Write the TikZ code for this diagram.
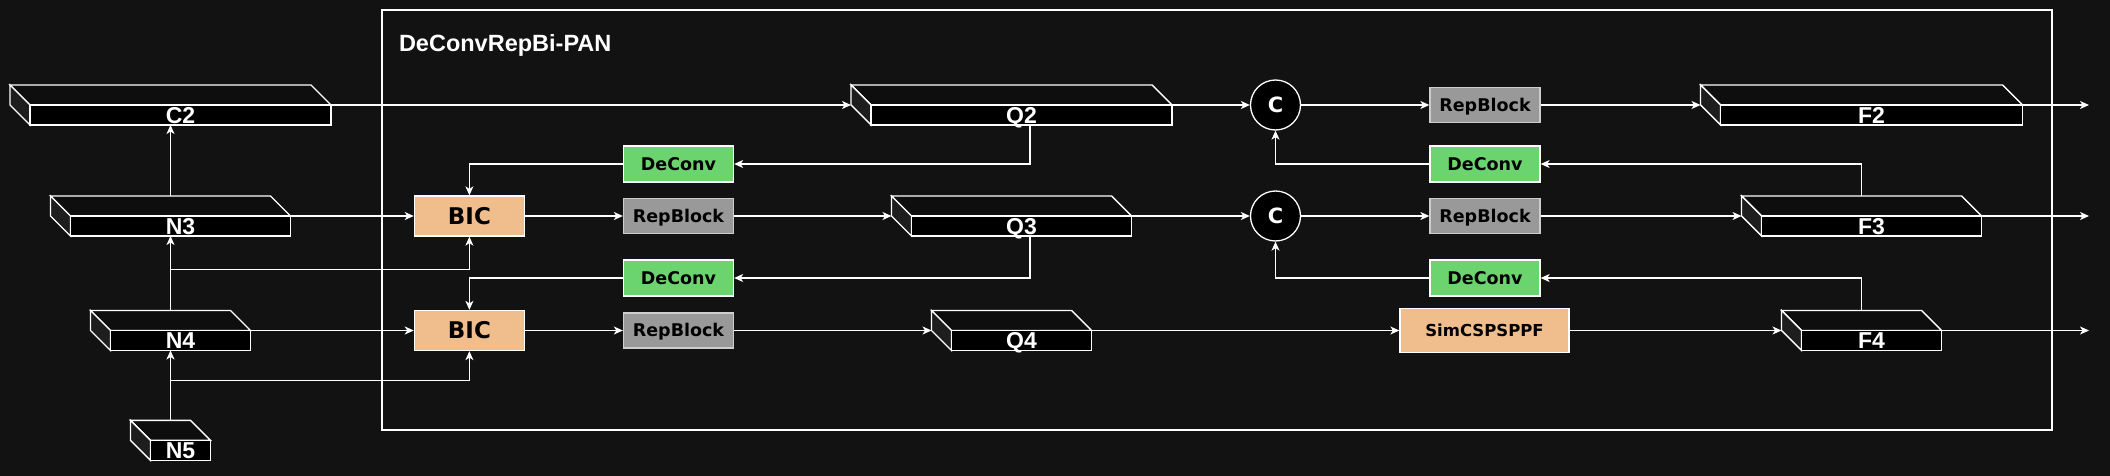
\documentclass[tikz,border=0pt]{standalone}
\usepackage{fontspec}
\setmainfont{Liberation Sans}
\newfontfamily\blockfont{DejaVu Sans}
\usepackage{tikz}
\usetikzlibrary{calc}
\usetikzlibrary{arrows.meta}

\definecolor{bgdark}{RGB}{18,18,18}
\definecolor{fmtop}{RGB}{14,14,14}
\definecolor{fmside}{RGB}{30,30,30}
\definecolor{deconvgreen}{RGB}{108,212,110}
\definecolor{repgray}{RGB}{153,153,153}
\definecolor{repedge}{RGB}{205,205,205}
\definecolor{bicpeach}{RGB}{240,190,140}

\tikzset{
  fmap/.style={rectangle, minimum height=40pt, inner sep=0pt, outer sep=0pt},
  fmline/.style={draw=white, line width=1.4pt},
  fmtext/.style={text=white, inner sep=0pt, text height=16.4pt, text depth=0pt,
    font=\fontsize{23}{23}\selectfont\bfseries},
  blk/.style={rectangle, draw=white, line width=1.3pt, minimum width=110pt, inner sep=0pt,
    text=black, text height=12.7pt, text depth=0pt,
    font=\blockfont\fontsize{17.5}{17.5}\selectfont\bfseries},
  deconv/.style={blk, fill=deconvgreen, minimum height=36pt},
  repblock/.style={blk, fill=repgray, draw=repedge, minimum height=35pt},
  bic/.style={blk, fill=bicpeach, minimum height=40pt, text height=16.8pt,
    font=\blockfont\fontsize{23}{23}\selectfont\bfseries},
  sppf/.style={blk, fill=bicpeach, minimum width=169pt, minimum height=44pt, text height=12pt,
    font=\blockfont\fontsize{16.5}{16.5}\selectfont\bfseries},
  concat/.style={circle, draw=white, line width=1.3pt, fill=black, minimum size=50pt, inner sep=0pt,
    text=white, text height=15.3pt, text depth=0pt,
    font=\blockfont\fontsize{21}{21}\selectfont\bfseries},
  flow/.style={draw=white, line width=1.3pt, -{Stealth[length=9pt,width=8pt,inset=2.5pt]}}
}

% feature map drawn as a flat box: name, centre x, centre y, width, label
\newcommand{\fmap}[5]{%
  \node[fmap, minimum width=#4pt] (#1) at (#2,#3) {};
  \filldraw[fmline, fill=fmtop] (#1.north west) -- ([xshift=-20pt]#1.north east) -- (#1.east) -- ([xshift=20pt]#1.west) -- cycle;
  \filldraw[fmline, fill=fmside] (#1.north west) -- ([xshift=20pt]#1.west) -- ([xshift=20pt]#1.south west) -- (#1.west) -- cycle;
  \filldraw[fmline, fill=black] ([xshift=20pt]#1.west) rectangle (#1.south east);
  \node[fmtext] (#1-lab) at ([xshift=10pt,yshift=-10pt]#1.center) {#5};
}

\begin{document}
\begin{tikzpicture}[x=1pt,y=-1pt]

        % background and frame
        \fill[bgdark] (0,0) rectangle (2110,476);
        \useasboundingbox (0,0) rectangle (2110,476);
        \draw[white, line width=1.3pt] (382,10) rectangle (2052,430);
        \node[anchor=base west, inner sep=0pt, text=white, font=\fontsize{23.5}{23.5}\selectfont\bfseries] (title) at (398.8,51.4) {DeConvRepBi-PAN};

        % feature maps
        \foreach \n/\x/\y/\w in {
            C2/170.5/105/321,
            N3/170.5/216/240,
            N4/170.5/330.5/160,
            N5/170.5/440.3/80,
            Q2/1011.5/105/321,
            Q3/1011.5/216/240,
            Q4/1011.5/330.5/160,
            F2/1861.5/105/322,
            F3/1861.5/216/240,
            F4/1861.5/330.5/160} {
                \fmap{\n}{\x}{\y}{\w}{\n}
        }

        % blocks
        \node[bic] (BIC1) at (469.4,216) {BIC};
        \node[bic] (BIC2) at (469.4,330.5) {BIC};
        \node[repblock] (RB1) at (678.5,216) {RepBlock};
        \node[repblock] (RB2) at (678.5,330.5) {RepBlock};
        \node[deconv] (DC1) at (678.5,164) {DeConv};
        \node[deconv] (DC2) at (678.5,278) {DeConv};
        \node[concat] (CC1) at (1275.5,105) {C};
        \node[concat] (CC2) at (1275.5,216) {C};
        \node[repblock] (RB3) at (1485,105) {RepBlock};
        \node[repblock] (RB4) at (1485,216) {RepBlock};
        \node[deconv] (DC3) at (1485,164) {DeConv};
        \node[deconv] (DC4) at (1485,278) {DeConv};
        \node[sppf] (SPPF) at (1484.5,330.5) {SimCSPSPPF};

        % outputs
        \coordinate (outF2) at (2089,105);
        \coordinate (outF3) at (2089,216);
        \coordinate (outF4) at (2089,330.5);

        % backbone inputs
        \draw[flow] (N5) -- (N4);
        \draw[flow] (N4) -- (N3);
        \draw[flow] (N3) -- (C2);
        \draw[flow] (N5.north) -- ++(0,-40) -| (BIC2.south);
        \draw[flow] (N4.north) -- ++(0,-41) -| (BIC1.south);
        \draw[flow] (N3) -- (BIC1);
        \draw[flow] (N4) -- (BIC2);

        % top-down rows
        \draw[flow] (C2) -- (Q2);
        \draw[flow] (Q2) -- (CC1);
        \draw[flow] (CC1) -- (RB3);
        \draw[flow] (RB3) -- (F2);
        \draw[flow] (F2) -- (outF2);
        \draw[flow] (BIC1) -- (RB1);
        \draw[flow] (RB1) -- (Q3);
        \draw[flow] (Q3) -- (CC2);
        \draw[flow] (CC2) -- (RB4);
        \draw[flow] (RB4) -- (F3);
        \draw[flow] (F3) -- (outF3);
        \draw[flow] (BIC2) -- (RB2);
        \draw[flow] (RB2) -- (Q4);
        \draw[flow] (Q4) -- (SPPF);
        \draw[flow] (SPPF) -- (F4);
        \draw[flow] (F4) -- (outF4);

        % deconv feedback
        \draw[flow] ([xshift=18.5pt]Q2.south) |- (DC1);
        \draw[flow] (DC1) -| (BIC1);
        \draw[flow] ([xshift=18.5pt]Q3.south) |- (DC2);
        \draw[flow] (DC2) -| (BIC2);
        \draw[flow] (F3) |- (DC3);
        \draw[flow] (DC3) -| (CC1);
        \draw[flow] (F4) |- (DC4);
        \draw[flow] (DC4) -| (CC2);

\end{tikzpicture}
\end{document}
